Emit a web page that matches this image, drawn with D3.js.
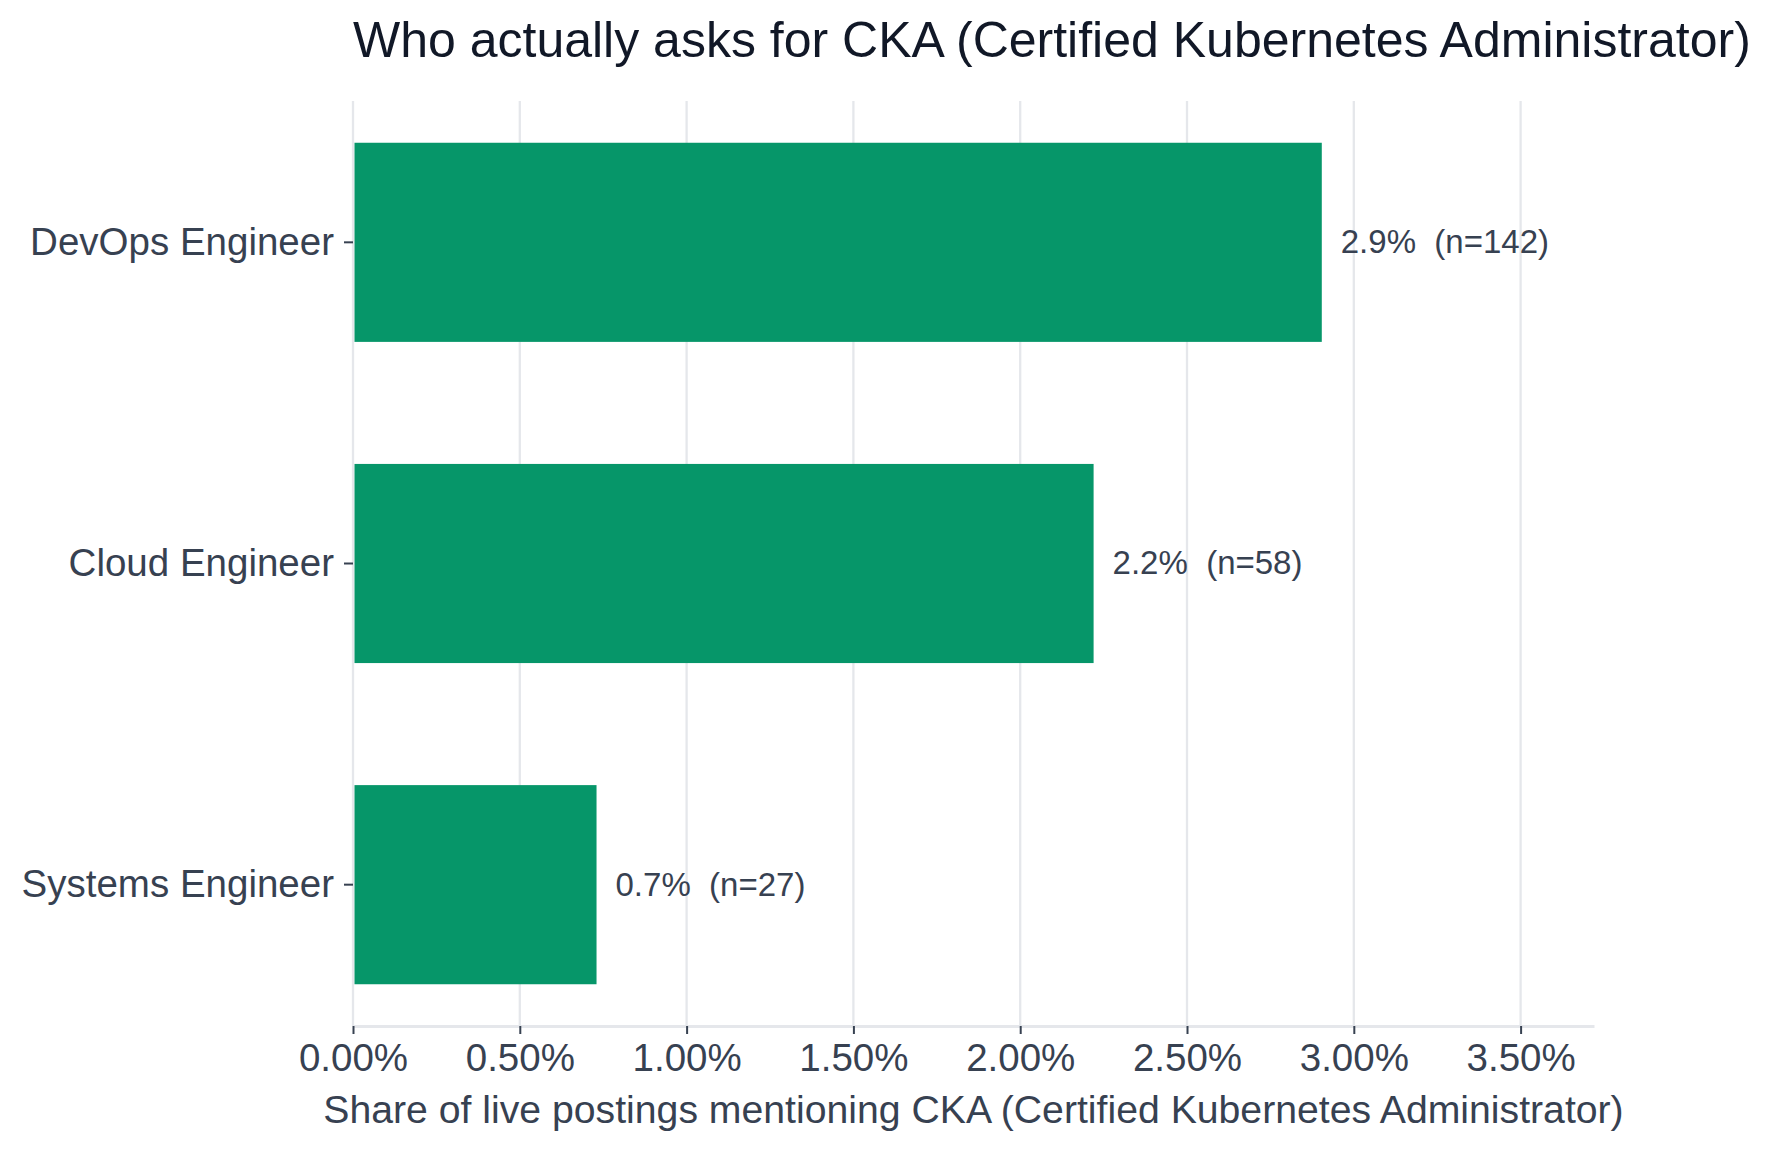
<!DOCTYPE html>
<html>
<head>
<meta charset="utf-8">
<script src="https://cdn.jsdelivr.net/npm/d3@7"></script>
<style>
  body { margin: 0; background: #fff; }
  svg { display: block; font-family: "Liberation Sans", Arial, Helvetica, sans-serif; }
</style>
</head>
<body>
<div id="chart"></div>
<script>
// chart values
var roles = ["DevOps Engineer", "Cloud Engineer", "Systems Engineer"];
var shares = [2.904, 2.22, 0.73];   // percent of live postings
var counts = [142, 58, 27];
var xTicks = [0, 0.5, 1.0, 1.5, 2.0, 2.5, 3.0, 3.5];
var xMax = 3.72;

var titleText = "Who actually asks for CKA (Certified Kubernetes Administrator)";
var xLabelText = "Share of live postings mentioning CKA (Certified Kubernetes Administrator)";

var W = 1781, H = 1149;
var margin = {top: 101, right: 187, bottom: 123, left: 353};
var width = W - margin.left - margin.right,
    height = H - margin.top - margin.bottom;

var svg = d3.select("#chart").append("svg")
  .attr("width", W)
  .attr("height", H);

var g = svg.append("g")
  .attr("transform", "translate(" + margin.left + "," + margin.top + ")");

var x = d3.scaleLinear().domain([0, xMax]).range([0, width]);
var y = d3.scaleBand().domain(roles).range([0, height])
  .paddingInner(0.38).paddingOuter(0.13);

// vertical gridlines
g.selectAll(".grid")
  .data(xTicks)
  .enter().append("line")
  .attr("x1", function(d) { return x(d); })
  .attr("x2", function(d) { return x(d); })
  .attr("y1", 0)
  .attr("y2", height)
  .attr("stroke", "#e5e7eb")
  .attr("stroke-width", 2.3);

// bars
var rows = roles.map(function(r, i) { return {role: r, share: shares[i], n: counts[i]}; });

g.selectAll(".bar")
  .data(rows)
  .enter().append("rect")
  .attr("x", x(0) + 1.5)
  .attr("y", function(d) { return y(d.role); })
  .attr("width", function(d) { return x(d.share) - x(0) - 1.5; })
  .attr("height", y.bandwidth())
  .attr("fill", "#069669");

// value labels
g.selectAll(".lbl")
  .data(rows)
  .enter().append("text")
  .attr("x", function(d) { return x(d.share) + 19; })
  .attr("y", function(d) { return y(d.role) + y.bandwidth() / 2; })
  .attr("dy", "0.33em")
  .style("white-space", "pre")
  .attr("font-size", 33)
  .attr("fill", "#374151")
  .text(function(d) { return d.share.toFixed(1) + "%  (n=" + d.n + ")"; });

// x axis
var xAxis = g.append("g")
  .attr("transform", "translate(0," + height + ")")
  .call(d3.axisBottom(x).tickValues(xTicks).tickSize(8).tickSizeOuter(0).tickPadding(10)
    .tickFormat(function(d) { return d.toFixed(2) + "%"; }));
xAxis.select(".domain").attr("stroke", "#e5e7eb").attr("stroke-width", 3);
xAxis.selectAll(".tick line").attr("stroke", "#374151").attr("stroke-width", 2);
xAxis.selectAll(".tick text")
  .attr("font-size", 38.5)
  .attr("fill", "#374151")
  .attr("font-family", null);

// y axis
var yAxis = g.append("g")
  .call(d3.axisLeft(y).tickSize(9).tickPadding(10));
yAxis.select(".domain").remove();
yAxis.selectAll(".tick line").attr("stroke", "#374151").attr("stroke-width", 2);
yAxis.selectAll(".tick text")
  .attr("font-size", 38.5)
  .attr("fill", "#374151")
  .attr("font-family", null);

// axis title
g.append("text")
  .attr("x", width / 2)
  .attr("y", height + 97)
  .attr("text-anchor", "middle")
  .attr("font-size", 39.2)
  .attr("fill", "#374151")
  .text(xLabelText);

// chart title
svg.append("text")
  .attr("x", margin.left)
  .attr("y", 57)
  .attr("font-size", 50)
  .attr("fill", "#111827")
  .text(titleText);
</script>
</body>
</html>
